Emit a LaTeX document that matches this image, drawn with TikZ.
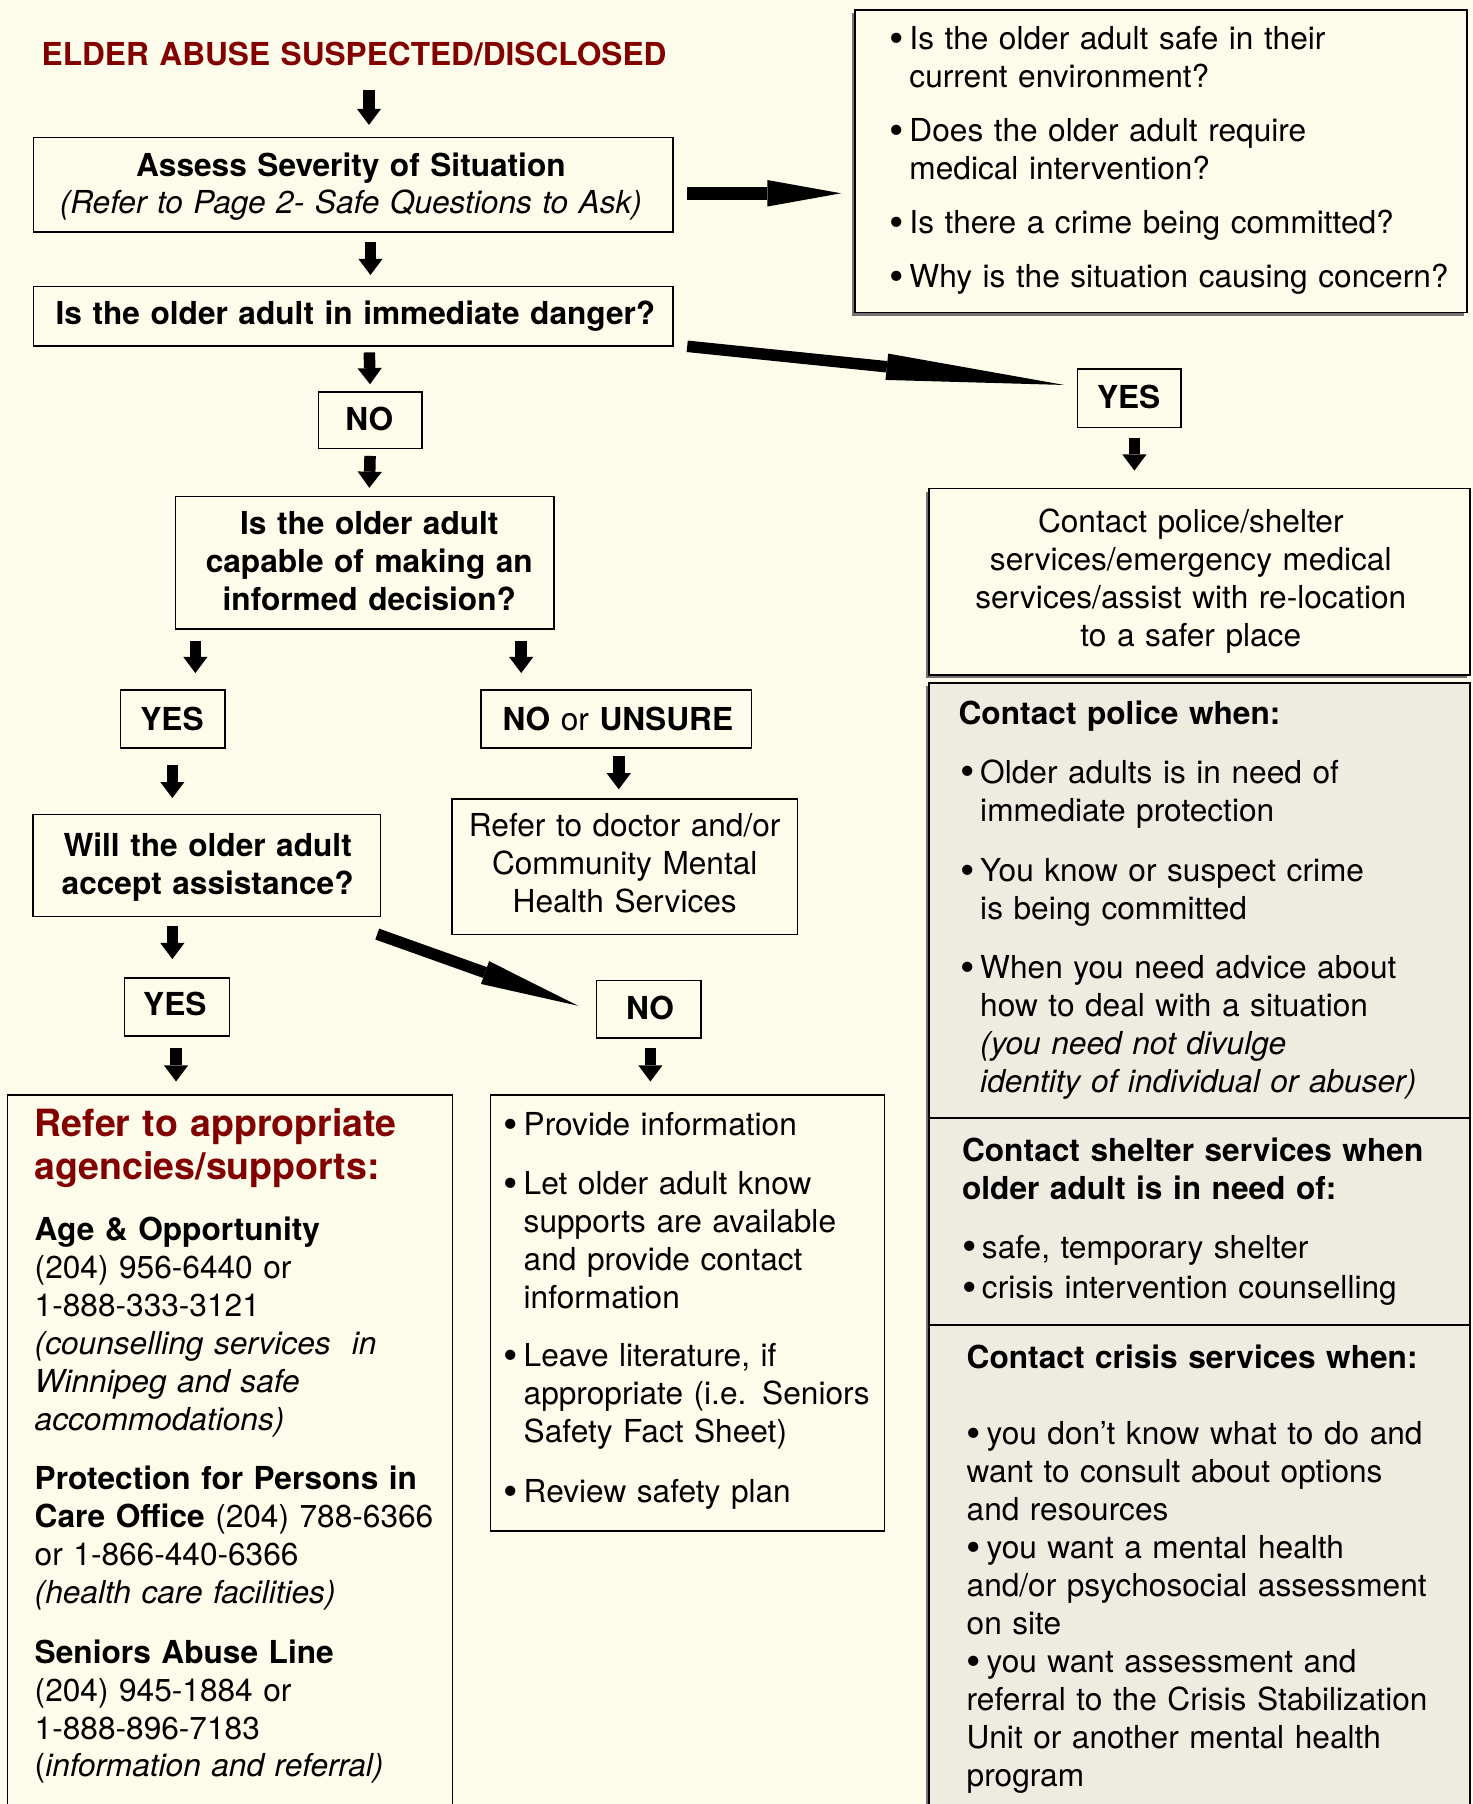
\documentclass[tikz,border=0pt]{standalone}
\usepackage{fontspec}
\setmainfont{TeX Gyre Heros}
\usetikzlibrary{arrows.meta,calc,shadows}
\definecolor{bg}{RGB}{253,252,234}
\definecolor{grayfill}{RGB}{238,236,225}
\definecolor{darkred}{RGB}{130,0,0}
\newcommand\bu{\makebox[17.3pt][l]{\raisebox{-2.4pt}{\scalebox{1.3}{\textbullet}}}}
\newcommand\ind{\hspace*{17.3pt}}
\begin{document}
\begin{tikzpicture}[x=1pt,y=-1pt,
  box/.style={draw=black, line width=1.3pt, fill=bg, rectangle, inner sep=0pt, anchor=north west},
  gbox/.style={box, fill=grayfill},
  shad/.style={drop shadow={shadow xshift=-3pt, shadow yshift=-3pt, fill=black!55, opacity=1}},
  txt/.style={inner sep=0pt, anchor=base, align=center, font=\fontsize{27.5}{33}\selectfont},
  ltxt/.style={inner sep=0pt, anchor=base west, align=left, font=\fontsize{27.5}{33}\selectfont},
  varr/.style={line width=10pt, -{Triangle[length=14pt,width=21pt,line width=0pt]}},
  harr/.style={line width=11pt, -{Triangle[length=64pt,width=23pt,line width=0pt]}},
  darra/.style={line width=10pt, -{Triangle[length=155pt,width=23pt,line width=0pt]}},
  darrb/.style={line width=10pt, -{Triangle[length=86pt,width=21pt,line width=0pt]}}
]
\useasboundingbox (0,0) rectangle (1280,1568);
\fill[bg] (0,0) rectangle (1280,1568);
\clip (0,0) rectangle (1280,1568);

% ---------- boxes ----------
\node[box, minimum width=556pt, minimum height=82pt] (assess) at (28.5,119) {};
\node[box, minimum width=556pt, minimum height=51.5pt] (danger) at (28.5,248.5) {};
\node[box, minimum width=90pt, minimum height=49pt] (no1) at (276,340) {};
\node[box, minimum width=329pt, minimum height=115pt] (decision) at (152,431) {};
\node[box, minimum width=91pt, minimum height=50.4pt] (yes1) at (104,599) {};
\node[box, minimum width=235pt, minimum height=50.4pt] (nounsure) at (417.6,599) {};
\node[box, minimum width=302pt, minimum height=88.7pt] (will) at (28,707.3) {};
\node[box, minimum width=300pt, minimum height=118pt] (doctor) at (392.4,693.7) {};
\node[box, minimum width=91pt, minimum height=50.7pt] (yes2) at (107.7,849.3) {};
\node[box, minimum width=90.7pt, minimum height=50pt] (no2) at (518,851.6) {};
\node[box, minimum width=386.5pt, minimum height=700pt] (leftbox) at (6,951) {};
\node[box, minimum width=342.3pt, minimum height=379pt] (midbox) at (425.7,951) {};
\node[box, shad, minimum width=532pt, minimum height=262.8pt] (questions) at (742.5,8) {};
\node[box, minimum width=90pt, minimum height=50.8pt] (yes3) at (936,320) {};
\node[box, shad, minimum width=470pt, minimum height=162pt] (contact) at (807,424) {};
\node[gbox, shad, minimum width=470pt, minimum height=378pt] (police) at (807,593) {};
\node[gbox, shad, minimum width=470pt, minimum height=180pt] (shelter) at (807,971) {};
\node[gbox, shad, minimum width=470pt, minimum height=500pt] (crisis) at (807,1151) {};

% ---------- texts ----------
\node[ltxt, text width=700pt, text=darkred] (title) at (36,56.5) {\textbf{ELDER ABUSE SUSPECTED/DISCLOSED}};
\node[txt, text width=550pt] (assessT) at (305,153) {\textbf{Assess Severity of Situation}\\\textit{(Refer to Page 2- Safe Questions to Ask)}};
\node[txt, text width=550pt] (dangerT) at (309,282.4) {\textbf{Is the older adult in immediate danger?}};
\node[txt, text width=88pt] (no1T) at (321,374) {\textbf{NO}};
\node[txt, text width=325pt] (decisionT) at (321,465) {\textbf{Is the older adult}\\\textbf{capable of making an}\\\textbf{informed decision?}};
\node[txt, text width=88pt] (yes1T) at (149.5,635) {\textbf{YES}};
\node[txt, text width=230pt] (nounsureT) at (537,635) {\textbf{NO} or \textbf{UNSURE}};
\node[txt, text width=298pt] (willT) at (180.5,744.4) {\textbf{Will the older adult}\\\textbf{accept assistance?}};
\node[txt, text width=298pt] (doctorT) at (543,727) {Refer to doctor and/or\\Community Mental\\Health Services};
\node[txt, text width=88pt] (yes2T) at (152,883) {\textbf{YES}};
\node[txt, text width=88pt] (no2T) at (565,886) {\textbf{NO}};
\node[txt, text width=88pt] (yes3T) at (981,354.7) {\textbf{YES}};
\node[txt, text width=460pt] (contactT) at (1035,463) {Contact police/shelter\\services/emergency medical\\services/assist with re-location\\to a safer place};

\node[ltxt, text width=520pt] (questionsT) at (773,43) {%
\bu Is the older adult safe in their\\
\ind current environment?\\[14pt]
\bu Does the older adult require\\
\ind medical intervention?\\[14pt]
\bu Is there a crime being committed?\\[14pt]
\bu Why is the situation causing concern?};

\node[ltxt, text width=440pt] (policeT) at (833,630) {%
\textbf{Contact police when:}\\[17.6pt]
\hspace*{1.5pt}\bu Older adults is in need of\\
\hspace*{1.5pt}\ind immediate protection\\[20pt]
\hspace*{1.5pt}\bu You know or suspect crime\\
\hspace*{1.5pt}\ind is being committed\\[18pt]
\hspace*{1.5pt}\bu When you need advice about\\
\hspace*{1.5pt}\ind how to deal with a situation\\
\hspace*{1.5pt}\ind\textit{(you need not divulge}\\
\hspace*{1.5pt}\ind\textit{identity of individual or abuser)}};

\node[ltxt, text width=440pt] (shelterT) at (836,1009.5) {%
\textbf{Contact shelter services when}\\
\textbf{older adult is in need of:}\\[18pt]
\bu safe, temporary shelter\\[2pt]
\bu crisis intervention counselling};

\node[ltxt, text width=440pt] (crisisT) at (840,1189.5) {%
\textbf{Contact crisis services when:}\\[33pt]
\bu you don’t know what to do and\\
want to consult about options\\
and resources\\
\bu you want a mental health\\
and/or psychosocial assessment\\
on site\\
\bu you want assessment and\\
referral to the Crisis Stabilization\\
Unit or another mental health\\
program};

\node[ltxt, text width=360pt, text=darkred, font=\fontsize{32.6}{37.5}\selectfont] (leftHead) at (30,988) {\textbf{Refer to appropriate}\\\textbf{agencies/supports:}};
\node[ltxt, text width=360pt] (ageT) at (30,1078) {%
\textbf{Age \& Opportunity}\\
(204) 956-6440 or\\
1-888-333-3121\\
\textit{(counselling services\ \ in}\\
\textit{Winnipeg and safe}\\
\textit{accommodations)}};
\node[ltxt, text width=360pt] (protT) at (30,1295) {%
\textbf{Protection for Persons in}\\
\textbf{Care Office} (204) 788-6366\\
or 1-866-440-6366\\
\textit{(health care facilities)}};
\node[ltxt, text width=360pt] (seniorsT) at (30,1445.5) {%
\textbf{Seniors Abuse Line}\\
(204) 945-1884 or\\
1-888-896-7183\\
(\textit{information and referral)}};

\node[ltxt, text width=330pt] (midT) at (437.7,987) {%
\bu Provide information\\[18pt]
\bu Let older adult know\\
\ind supports are available\\
\ind and provide contact\\
\ind information\\[18pt]
\bu Leave literature, if\\
\ind appropriate (i.e. Seniors\\
\ind Safety Fact Sheet)\\[19pt]
\bu Review safety plan};

% ---------- connectors ----------
\draw[varr] ($(assess.north -| 320.7,0)+(0,-41)$) -- ($(assess.north -| 320.7,0)+(0,-10.4)$);
\draw[varr] ($(assess.south -| 322,0)+(0,8)$) -- ($(danger.north -| 322,0)+(0,-9.5)$);
\draw[varr] ($(danger.south -| 321,0)+(0,5)$) -- ($(no1.north)+(0,-6)$);
\draw[varr] ($(no1.south)+(0,6)$) -- ($(decision.north -| 321,0)+(0,-7)$);
\draw[varr] ($(decision.south -| 169.8,0)+(0,10)$) -- ($(yes1.north -| 169.8,0)+(0,-14)$);
\draw[varr] ($(decision.south -| 453,0)+(0,10)$) -- ($(nounsure.north -| 453,0)+(0,-14)$);
\draw[varr] ($(yes1.south -| 149.8,0)+(0,14.6)$) -- ($(will.north -| 149.8,0)+(0,-13.6)$);
\draw[varr] ($(nounsure.south -| 537.8,0)+(0,6.6)$) -- ($(doctor.north -| 537.8,0)+(0,-7.7)$);
\draw[varr] ($(will.south -| 149.8,0)+(0,7.2)$) -- ($(yes2.north -| 149.8,0)+(0,-15.7)$);
\draw[varr] ($(yes2.south -| 153,0)+(0,9.5)$) -- ($(leftbox.north -| 153,0)+(0,-11)$);
\draw[varr] ($(no2.south -| 565.3,0)+(0,7.8)$) -- ($(midbox.north -| 565.3,0)+(0,-11)$);
\draw[varr] ($(yes3.south -| 986,0)+(0,8.2)$) -- ($(contact.north -| 986,0)+(0,-15)$);
\draw[harr] ($(assess.east |- 0,168)+(11.5,0)$) -- ($(questions.west |- 0,168)+(-11.5,0)$);
\draw[darra] ($(danger.east |- 0,301)+(11.5,0)$) -- ($(yes3.west |- 0,334.6)+(-11,0)$);
\draw[darrb] ($(will.east |- 0,811.9)+(-3.4,0)$) -- ($(no2.west |- 0,874.2)+(-15.4,0)$);
\end{tikzpicture}
\end{document}
